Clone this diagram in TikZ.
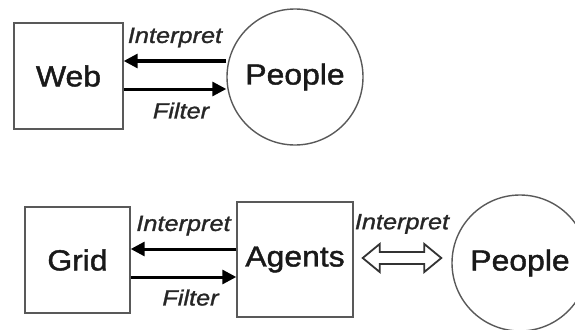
\documentclass[tikz,border=0pt]{standalone}
\usepackage{fontspec}
\setmainfont[FakeStretch=1.1,RawFeature={embolden=1.5}]{Liberation Sans}
\newfontfamily\lblfont[FakeStretch=1.15,RawFeature={embolden=1.2}]{Liberation Sans}
\usetikzlibrary{arrows.meta,calc,positioning}
\tikzset{
  box/.style={draw=black!65, line width=1.4pt, inner sep=0pt, text=black!90, font=\fontsize{29}{32}\selectfont},
  person/.style={circle, draw=black!65, line width=1.4pt, minimum size=136pt, inner sep=0pt, text=black!90, font=\fontsize{29}{32}\selectfont},
  flow/.style={-{Triangle[length=14pt,width=14pt]}, line width=3pt},
  lbl/.style={inner sep=0pt, text=black!85, font=\lblfont\itshape\fontsize{22}{25}\selectfont},
  hollow/.style={draw=black!80, line width=1.8pt, line join=miter}
}
\begin{document}
\begin{tikzpicture}[x=1pt,y=-1pt]
  \path[use as bounding box, clip] (0,0) rectangle (575,329);
  % top row: web and people
  \node[box, minimum width=109pt, minimum height=106pt] (web) at (68.5,76) {Web};
  \node[person] (ppl) at (295,77) {People};
  \coordinate (i1) at ($(web.east)+(0,-15)$);
  \coordinate (f1) at ($(web.east)+(0,13)$);
  \draw[flow] (ppl.west |- i1) -- node[lbl, above=12pt] {Interpret} (i1);
  \draw[flow] (f1) -- node[lbl, below=12pt, xshift=6pt] {Filter} (ppl.west |- f1);
  % bottom row: grid, agents and people
  \node[box, minimum width=105pt, minimum height=106pt] (grid) at (77.5,260) {Grid};
  \node[box, minimum width=116pt, minimum height=115pt] (agt) at (295,259.5) {Agents};
  \node[person] (ppl2) at (520,263) {People};
  \coordinate (i2) at ($(grid.east)+(0,-11)$);
  \coordinate (f2) at ($(grid.east)+(0,17)$);
  \draw[flow] (agt.west |- i2) -- node[lbl, above=12pt] {Interpret} (i2);
  \draw[flow] (f2) -- node[lbl, below=11pt, xshift=7pt] {Filter} (agt.west |- f2);
  % hollow two-way arrow
  \coordinate (dl) at ($(agt.east)+(9,-1.5)$);
  \coordinate (dr) at ($(ppl2.west |- dl)+(-10,0)$);
  \draw[hollow] (dl) -- ++(17,-14) -- ++(0,8) -- ($(dr)+(-17,-6)$) -- ++(0,-8) -- (dr)
    -- ++(-17,14) -- ++(0,-8) -- ($(dl)+(17,6)$) -- ++(0,8) -- cycle;
  \path (dl) -- node[lbl, above=24pt] {Interpret} (dr);
\end{tikzpicture}
\end{document}
